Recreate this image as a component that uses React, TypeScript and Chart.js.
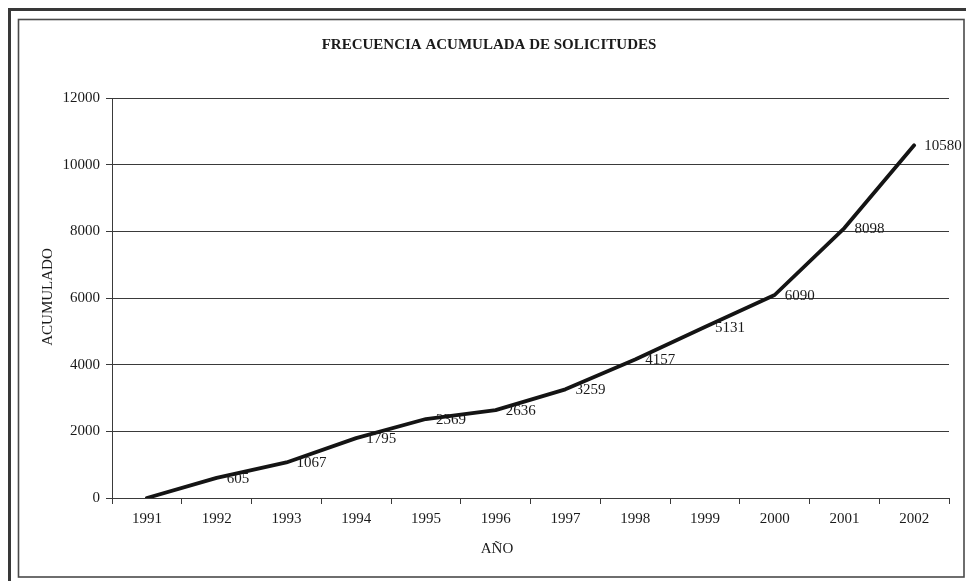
import React, { useEffect, useRef } from "react";
import { Chart, registerables } from "chart.js";

Chart.register(...registerables);

const years = ["1991", "1992", "1993", "1994", "1995", "1996", "1997", "1998", "1999", "2000", "2001", "2002"];
const accumulated = [0, 605, 1067, 1795, 2369, 2636, 3259, 4157, 5131, 6090, 8098, 10580];
const pointLabels = ["", "605", "1067", "1795", "2369", "2636", "3259", "4157", "5131", "6090", "8098", "10580"];
const yMin = 0;
const yMax = 12000;
const yStep = 2000;
const chartTitle = "FRECUENCIA ACUMULADA DE SOLICITUDES";
const xTitle = "AÑO";
const yTitle = "ACUMULADO";

const SERIF = "'Liberation Serif', 'Times New Roman', serif";
const INK = "#1a1a1a";
const RULE = "#3a3a3a";

const decorPlugin = {
  id: "decor",
  beforeDraw(chart: any) {
    const { ctx, width, height } = chart;
    ctx.save();
    ctx.fillStyle = "#ffffff";
    ctx.fillRect(0, 0, width, height);
    // outer thick frame (left + top)
    ctx.strokeStyle = "#383838";
    ctx.lineWidth = 3;
    ctx.beginPath();
    ctx.moveTo(9.5, height);
    ctx.lineTo(9.5, 9.5);
    ctx.lineTo(width, 9.5);
    ctx.stroke();
    // inner frame
    ctx.strokeStyle = "#4a4a4a";
    ctx.lineWidth = 1.6;
    ctx.strokeRect(18.5, 19.5, 964 - 18.5, 577 - 19.5);
    ctx.restore();
  },
  afterDatasetsDraw(chart: any) {
    const { ctx } = chart;
    const meta = chart.getDatasetMeta(0);
    ctx.save();
    ctx.font = `15px ${SERIF}`;
    ctx.fillStyle = INK;
    ctx.textAlign = "left";
    ctx.textBaseline = "middle";
    meta.data.forEach((pt: any, i: number) => {
      const txt = pointLabels[i];
      if (!txt) return;
      ctx.fillText(txt, pt.x + 10, pt.y + 1);
    });
    ctx.restore();
  },
  afterDraw(chart: any) {
    const { ctx, chartArea } = chart;
    ctx.save();
    ctx.fillStyle = INK;
    ctx.textAlign = "center";
    ctx.textBaseline = "middle";
    ctx.font = `bold 15px ${SERIF}`;
    ctx.fillText(chartTitle, 489, 45);
    ctx.font = `15px ${SERIF}`;
    ctx.fillText(xTitle, 497, 549);
    ctx.translate(48, (chartArea.top + chartArea.bottom) / 2 - 1);
    ctx.rotate(-Math.PI / 2);
    ctx.fillText(yTitle, 0, 0);
    ctx.restore();
  },
};

export default function App() {
  const canvasRef = useRef<HTMLCanvasElement | null>(null);

  useEffect(() => {
    const canvas = canvasRef.current;
    if (!canvas) return;
    const chart = new Chart(canvas, {
      type: "line",
      data: {
        labels: years,
        datasets: [
          {
            label: yTitle,
            data: accumulated,
            borderColor: "#141414",
            backgroundColor: "#141414",
            borderWidth: 3.8,
            pointRadius: 0,
            pointHoverRadius: 0,
            tension: 0,
            borderCapStyle: "round",
            borderJoinStyle: "round",
          },
        ],
      },
      options: {
        responsive: false,
        animation: false,
        events: [],
        layout: { padding: { left: 20, right: 17, top: 98, bottom: 20 } },
        plugins: {
          legend: { display: false },
          title: { display: false },
          tooltip: { enabled: false },
        },
        scales: {
          x: {
            offset: true,
            grid: {
              offset: true,
              drawOnChartArea: false,
              drawTicks: true,
              tickLength: 6,
              color: RULE,
              lineWidth: 1,
            },
            border: { display: true, color: RULE, width: 1 },
            ticks: {
              font: { family: SERIF, size: 15 },
              color: INK,
              padding: 6,
              maxRotation: 0,
              autoSkip: false,
            },
            afterFit: (s: any) => {
              s.height = 63;
            },
          },
          y: {
            min: yMin,
            max: yMax,
            ticks: {
              stepSize: yStep,
              font: { family: SERIF, size: 15 },
              color: INK,
              padding: 6,
              callback: (v: any) => String(v),
            },
            grid: { color: RULE, lineWidth: 1, tickLength: 6 },
            border: { display: true, color: RULE, width: 1 },
            afterFit: (s: any) => {
              s.width = 92;
            },
          },
        },
      },
      plugins: [decorPlugin],
    });
    return () => chart.destroy();
  }, []);

  return (
    <div style={{ position: "fixed", left: 0, top: 0, width: 966, height: 581, background: "#fff" }}>
      <canvas ref={canvasRef} width={966} height={581} style={{ display: "block", width: 966, height: 581 }} />
    </div>
  );
}
